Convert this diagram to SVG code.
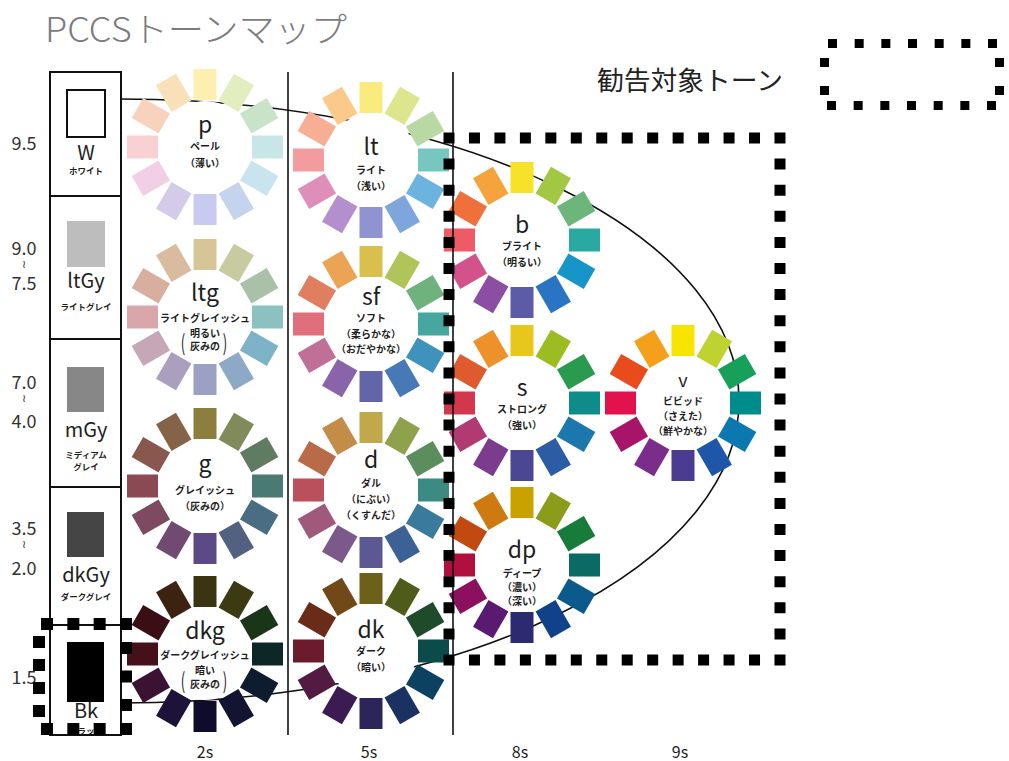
<svg xmlns="http://www.w3.org/2000/svg" width="1009" height="761" viewBox="0 0 1009 761">
<style>
  text { font-family: "Noto Sans CJK JP", "Noto Sans", sans-serif; fill: #1e1e1e; }
  .title { font-size: 34px; font-weight: 300; fill: #7c7c7c; }
  .legend { font-size: 26px; fill: #222; }
  .tone { font-size: 23px; text-anchor: middle; }
  .jp { font-size: 10px; font-weight: bold; text-anchor: middle; }
  .gy { font-size: 20px; text-anchor: middle; }
  .gyj { font-size: 8.5px; font-weight: bold; text-anchor: middle; }
  .val { font-size: 18px; text-anchor: middle; fill: #333; }
  .wave { font-family: "DejaVu Sans", sans-serif; font-size: 11px; text-anchor: middle; fill: #333; }
  .axis { font-size: 16px; text-anchor: middle; }
  .paren { font-size: 22px; text-anchor: middle; }
  .frame { stroke: #111; stroke-width: 2; fill: none; }
  .rule { stroke: #111; stroke-width: 1.6; fill: none; }
  .hub { fill: #fff; }
  .dots line { stroke: #000; fill: none; }
</style>
<defs>
  <!-- one radial colour chip of a tone wheel; rotated in 30 degree steps -->
  <rect id="petal" x="-11.5" y="-78" width="23" height="31"/>
</defs>

<rect width="1009" height="761" fill="#fff"/>

<text class="title" x="45" y="42" textLength="302" lengthAdjust="spacingAndGlyphs">PCCSトーンマップ</text>

<!-- tone boundary curve -->
<g id="connectors">
  <path class="rule" d="M121,99 A618,302 0 1 1 121,703"/>
</g>

<!-- achromatic scale -->
<g id="grays">
  <rect class="frame" x="50" y="72" width="71" height="663"/>
  <line class="frame" x1="50" y1="196" x2="121" y2="196"/>
  <line class="frame" x1="50" y1="339" x2="121" y2="339"/>
  <line class="frame" x1="50" y1="487" x2="121" y2="487"/>
  <line class="frame" x1="50" y1="625" x2="121" y2="625"/>

  <rect x="67" y="90" width="38" height="47" fill="#fff" stroke="#111" stroke-width="2"/>
  <text class="gy" x="86" y="160">W</text>
  <text class="gyj" x="86" y="174">ホワイト</text>

  <rect x="67" y="221" width="38" height="46" fill="#bdbdbd"/>
  <text class="gy" x="86" y="288">ltGy</text>
  <text class="gyj" x="86" y="310">ライトグレイ</text>

  <rect x="67" y="367" width="37" height="45" fill="#878787"/>
  <text class="gy" x="86" y="437">mGy</text>
  <text class="gyj" x="86" y="458">ミディアム</text>
  <text class="gyj" x="86" y="470">グレイ</text>

  <rect x="67" y="512" width="37" height="45" fill="#454545"/>
  <text class="gy" x="86" y="582">dkGy</text>
  <text class="gyj" x="86" y="600">ダークグレイ</text>

  <rect x="67" y="642" width="37" height="60" fill="#000"/>
  <text class="gy" x="86" y="718">Bk</text>
  <text class="gyj" x="86" y="734">ブラック</text>
</g>

<!-- lightness values -->
<g id="values">
  <text class="val" x="24" y="150">9.5</text>
  <text class="val" x="24" y="255">9.0</text>
  <text class="wave" x="24" y="268">≀</text>
  <text class="val" x="24" y="290">7.5</text>
  <text class="val" x="24" y="389">7.0</text>
  <text class="wave" x="24" y="402">≀</text>
  <text class="val" x="24" y="428">4.0</text>
  <text class="val" x="24" y="535">3.5</text>
  <text class="wave" x="24" y="548">≀</text>
  <text class="val" x="24" y="575">2.0</text>
  <text class="val" x="24" y="684">1.5</text>
</g>

<!-- 2s column -->
<g id="wheel-p" transform="translate(205,147)">
  <circle class="hub" r="46"/>
  <use href="#petal" fill="#fcefb0"/>
  <use href="#petal" transform="rotate(30)" fill="#e3eec0"/>
  <use href="#petal" transform="rotate(60)" fill="#c9e3c8"/>
  <use href="#petal" transform="rotate(90)" fill="#c8e6e6"/>
  <use href="#petal" transform="rotate(120)" fill="#c8e4ee"/>
  <use href="#petal" transform="rotate(150)" fill="#c4d4ec"/>
  <use href="#petal" transform="rotate(180)" fill="#c8caf0"/>
  <use href="#petal" transform="rotate(210)" fill="#d3cbe7"/>
  <use href="#petal" transform="rotate(240)" fill="#f2cfe4"/>
  <use href="#petal" transform="rotate(270)" fill="#f8d2d2"/>
  <use href="#petal" transform="rotate(300)" fill="#f7d3bd"/>
  <use href="#petal" transform="rotate(330)" fill="#fae0b8"/>
  <text class="tone" y="-14">p</text>
  <text class="jp" y="3">ペール</text>
  <text class="jp" y="20">（薄い）</text>
</g>

<g id="wheel-ltg" transform="translate(205,317)">
  <circle class="hub" r="46"/>
  <use href="#petal" fill="#d5c597"/>
  <use href="#petal" transform="rotate(30)" fill="#c8cb9f"/>
  <use href="#petal" transform="rotate(60)" fill="#a9c1a9"/>
  <use href="#petal" transform="rotate(90)" fill="#8cc1c2"/>
  <use href="#petal" transform="rotate(120)" fill="#7eb2c6"/>
  <use href="#petal" transform="rotate(150)" fill="#8ea9c6"/>
  <use href="#petal" transform="rotate(180)" fill="#9aa1c2"/>
  <use href="#petal" transform="rotate(210)" fill="#ab9fbe"/>
  <use href="#petal" transform="rotate(240)" fill="#c6a7b7"/>
  <use href="#petal" transform="rotate(270)" fill="#d9a7aa"/>
  <use href="#petal" transform="rotate(300)" fill="#d8af9f"/>
  <use href="#petal" transform="rotate(330)" fill="#d9bb9e"/>
  <text class="tone" y="-16">ltg</text>
  <text class="jp" y="5">ライトグレイッシュ</text>
  <text class="jp" y="20">明るい</text>
  <text class="jp" y="33">灰みの</text>
  <text class="paren" transform="translate(-22,34) scale(0.6,1)">(</text>
  <text class="paren" transform="translate(20,34) scale(0.6,1)">)</text>
</g>

<g id="wheel-g" transform="translate(205,486)">
  <circle class="hub" r="46"/>
  <use href="#petal" fill="#8c7f3e"/>
  <use href="#petal" transform="rotate(30)" fill="#818a5a"/>
  <use href="#petal" transform="rotate(60)" fill="#5f7c63"/>
  <use href="#petal" transform="rotate(90)" fill="#4a7b73"/>
  <use href="#petal" transform="rotate(120)" fill="#4b6d83"/>
  <use href="#petal" transform="rotate(150)" fill="#536181"/>
  <use href="#petal" transform="rotate(180)" fill="#5b4a85"/>
  <use href="#petal" transform="rotate(210)" fill="#714a72"/>
  <use href="#petal" transform="rotate(240)" fill="#7d4a61"/>
  <use href="#petal" transform="rotate(270)" fill="#8b4a53"/>
  <use href="#petal" transform="rotate(300)" fill="#8a574f"/>
  <use href="#petal" transform="rotate(330)" fill="#846349"/>
  <text class="tone" y="-14">g</text>
  <text class="jp" y="8">グレイッシュ</text>
  <text class="jp" y="24">（灰みの）</text>
</g>

<g id="wheel-dkg" transform="translate(205,654)">
  <circle class="hub" r="46"/>
  <use href="#petal" fill="#3a3510"/>
  <use href="#petal" transform="rotate(30)" fill="#3b3a12"/>
  <use href="#petal" transform="rotate(60)" fill="#1b3518"/>
  <use href="#petal" transform="rotate(90)" fill="#0d2626"/>
  <use href="#petal" transform="rotate(120)" fill="#0d1c2e"/>
  <use href="#petal" transform="rotate(150)" fill="#121432"/>
  <use href="#petal" transform="rotate(180)" fill="#0e0c2a"/>
  <use href="#petal" transform="rotate(210)" fill="#1d1238"/>
  <use href="#petal" transform="rotate(240)" fill="#3c1232"/>
  <use href="#petal" transform="rotate(270)" fill="#45101a"/>
  <use href="#petal" transform="rotate(300)" fill="#3a0e14"/>
  <use href="#petal" transform="rotate(330)" fill="#3c2210"/>
  <text class="tone" y="-15">dkg</text>
  <text class="jp" y="5">ダークグレイッシュ</text>
  <text class="jp" y="20">暗い</text>
  <text class="jp" y="34">灰みの</text>
  <text class="paren" transform="translate(-22,35) scale(0.6,1)">(</text>
  <text class="paren" transform="translate(20,35) scale(0.6,1)">)</text>
</g>

<!-- 5s column -->
<g id="wheel-lt" transform="translate(371,160)">
  <circle class="hub" r="46"/>
  <use href="#petal" fill="#f9eb7d"/>
  <use href="#petal" transform="rotate(30)" fill="#dde58d"/>
  <use href="#petal" transform="rotate(60)" fill="#b8d9a4"/>
  <use href="#petal" transform="rotate(90)" fill="#77c6c0"/>
  <use href="#petal" transform="rotate(120)" fill="#6db3df"/>
  <use href="#petal" transform="rotate(150)" fill="#7fa6dc"/>
  <use href="#petal" transform="rotate(180)" fill="#8f93d0"/>
  <use href="#petal" transform="rotate(210)" fill="#b48fce"/>
  <use href="#petal" transform="rotate(240)" fill="#de8fb9"/>
  <use href="#petal" transform="rotate(270)" fill="#f39c9f"/>
  <use href="#petal" transform="rotate(300)" fill="#f7ae94"/>
  <use href="#petal" transform="rotate(330)" fill="#fbca8a"/>
  <text class="tone" y="-5">lt</text>
  <text class="jp" y="14">ライト</text>
  <text class="jp" y="30">（浅い）</text>
</g>

<g id="wheel-sf" transform="translate(371,324)">
  <circle class="hub" r="46"/>
  <use href="#petal" fill="#d9c04c"/>
  <use href="#petal" transform="rotate(30)" fill="#b1c45a"/>
  <use href="#petal" transform="rotate(60)" fill="#6fb27e"/>
  <use href="#petal" transform="rotate(90)" fill="#45a79e"/>
  <use href="#petal" transform="rotate(120)" fill="#3e92bb"/>
  <use href="#petal" transform="rotate(150)" fill="#4679b5"/>
  <use href="#petal" transform="rotate(180)" fill="#6266a8"/>
  <use href="#petal" transform="rotate(210)" fill="#8a64aa"/>
  <use href="#petal" transform="rotate(240)" fill="#c06f97"/>
  <use href="#petal" transform="rotate(270)" fill="#df6f7b"/>
  <use href="#petal" transform="rotate(300)" fill="#e07e60"/>
  <use href="#petal" transform="rotate(330)" fill="#eba455"/>
  <text class="tone" y="-19">sf</text>
  <text class="jp" y="-2">ソフト</text>
  <text class="jp" y="14">（柔らかな）</text>
  <text class="jp" y="29">（おだやかな）</text>
</g>

<g id="wheel-d" transform="translate(371,490)">
  <circle class="hub" r="46"/>
  <use href="#petal" fill="#c0a94a"/>
  <use href="#petal" transform="rotate(30)" fill="#90a14b"/>
  <use href="#petal" transform="rotate(60)" fill="#5b8e5c"/>
  <use href="#petal" transform="rotate(90)" fill="#3b8b82"/>
  <use href="#petal" transform="rotate(120)" fill="#3a7a9c"/>
  <use href="#petal" transform="rotate(150)" fill="#3c6295"/>
  <use href="#petal" transform="rotate(180)" fill="#5b5893"/>
  <use href="#petal" transform="rotate(210)" fill="#7b598b"/>
  <use href="#petal" transform="rotate(240)" fill="#a0597a"/>
  <use href="#petal" transform="rotate(270)" fill="#b9505c"/>
  <use href="#petal" transform="rotate(300)" fill="#b96b49"/>
  <use href="#petal" transform="rotate(330)" fill="#c38c49"/>
  <text class="tone" y="-22">d</text>
  <text class="jp" y="-3">ダル</text>
  <text class="jp" y="13">（にぶい）</text>
  <text class="jp" y="29">（くすんだ）</text>
</g>

<g id="wheel-dk" transform="translate(371,651)">
  <circle class="hub" r="46"/>
  <use href="#petal" fill="#6b6119"/>
  <use href="#petal" transform="rotate(30)" fill="#4f5b19"/>
  <use href="#petal" transform="rotate(60)" fill="#1f4b2b"/>
  <use href="#petal" transform="rotate(90)" fill="#0b4b49"/>
  <use href="#petal" transform="rotate(120)" fill="#0d4161"/>
  <use href="#petal" transform="rotate(150)" fill="#1b3161"/>
  <use href="#petal" transform="rotate(180)" fill="#2b2559"/>
  <use href="#petal" transform="rotate(210)" fill="#3b1b51"/>
  <use href="#petal" transform="rotate(240)" fill="#531b41"/>
  <use href="#petal" transform="rotate(270)" fill="#6b1b2b"/>
  <use href="#petal" transform="rotate(300)" fill="#6b2b19"/>
  <use href="#petal" transform="rotate(330)" fill="#714919"/>
  <text class="tone" y="-13">dk</text>
  <text class="jp" y="4">ダーク</text>
  <text class="jp" y="20">（暗い）</text>
</g>

<!-- 8s column -->
<g id="wheel-b" transform="translate(522,240)">
  <circle class="hub" r="46"/>
  <use href="#petal" fill="#f8e229"/>
  <use href="#petal" transform="rotate(30)" fill="#a1c743"/>
  <use href="#petal" transform="rotate(60)" fill="#6cb67c"/>
  <use href="#petal" transform="rotate(90)" fill="#2aa9a2"/>
  <use href="#petal" transform="rotate(120)" fill="#1795c9"/>
  <use href="#petal" transform="rotate(150)" fill="#2a74c4"/>
  <use href="#petal" transform="rotate(180)" fill="#5c5ba8"/>
  <use href="#petal" transform="rotate(210)" fill="#8b4ea3"/>
  <use href="#petal" transform="rotate(240)" fill="#d4528b"/>
  <use href="#petal" transform="rotate(270)" fill="#ee5a66"/>
  <use href="#petal" transform="rotate(300)" fill="#f0703c"/>
  <use href="#petal" transform="rotate(330)" fill="#f4a33d"/>
  <text class="tone" y="-7">b</text>
  <text class="jp" y="10">ブライト</text>
  <text class="jp" y="26">（明るい）</text>
</g>

<g id="wheel-s" transform="translate(522,403)">
  <circle class="hub" r="46"/>
  <use href="#petal" fill="#e9c61a"/>
  <use href="#petal" transform="rotate(30)" fill="#9cbd21"/>
  <use href="#petal" transform="rotate(60)" fill="#2a9a4f"/>
  <use href="#petal" transform="rotate(90)" fill="#0d8c8a"/>
  <use href="#petal" transform="rotate(120)" fill="#1c77ad"/>
  <use href="#petal" transform="rotate(150)" fill="#2c5ca3"/>
  <use href="#petal" transform="rotate(180)" fill="#4b4792"/>
  <use href="#petal" transform="rotate(210)" fill="#7b3c8e"/>
  <use href="#petal" transform="rotate(240)" fill="#b13a72"/>
  <use href="#petal" transform="rotate(270)" fill="#d3374d"/>
  <use href="#petal" transform="rotate(300)" fill="#df5a2e"/>
  <use href="#petal" transform="rotate(330)" fill="#ef912a"/>
  <text class="tone" y="-7">s</text>
  <text class="jp" y="10">ストロング</text>
  <text class="jp" y="26">（強い）</text>
</g>

<g id="wheel-dp" transform="translate(522,565)">
  <circle class="hub" r="46"/>
  <use href="#petal" fill="#c9a200"/>
  <use href="#petal" transform="rotate(30)" fill="#8b9b1a"/>
  <use href="#petal" transform="rotate(60)" fill="#177b39"/>
  <use href="#petal" transform="rotate(90)" fill="#0a6b65"/>
  <use href="#petal" transform="rotate(120)" fill="#0a5b8b"/>
  <use href="#petal" transform="rotate(150)" fill="#10418b"/>
  <use href="#petal" transform="rotate(180)" fill="#2c2a70"/>
  <use href="#petal" transform="rotate(210)" fill="#5b1a71"/>
  <use href="#petal" transform="rotate(240)" fill="#8b1060"/>
  <use href="#petal" transform="rotate(270)" fill="#b1103f"/>
  <use href="#petal" transform="rotate(300)" fill="#c24a10"/>
  <use href="#petal" transform="rotate(330)" fill="#cd7b10"/>
  <text class="tone" y="-7">dp</text>
  <text class="jp" y="12">ディープ</text>
  <text class="jp" y="26">（濃い）</text>
  <text class="jp" y="40">（深い）</text>
</g>

<!-- 9s column -->
<g id="wheel-v" transform="translate(683,403)">
  <circle class="hub" r="46"/>
  <use href="#petal" fill="#f7e400"/>
  <use href="#petal" transform="rotate(30)" fill="#bfd230"/>
  <use href="#petal" transform="rotate(60)" fill="#16a05a"/>
  <use href="#petal" transform="rotate(90)" fill="#008c8b"/>
  <use href="#petal" transform="rotate(120)" fill="#0b78b0"/>
  <use href="#petal" transform="rotate(150)" fill="#1f57a8"/>
  <use href="#petal" transform="rotate(180)" fill="#4b3c91"/>
  <use href="#petal" transform="rotate(210)" fill="#7b2d8c"/>
  <use href="#petal" transform="rotate(240)" fill="#a8146a"/>
  <use href="#petal" transform="rotate(270)" fill="#e2124f"/>
  <use href="#petal" transform="rotate(300)" fill="#e94b1c"/>
  <use href="#petal" transform="rotate(330)" fill="#f5a01a"/>
  <text class="tone" y="-16" style="font-size:18px">v</text>
  <text class="jp" y="2">ビビッド</text>
  <text class="jp" y="17">（さえた）</text>
  <text class="jp" y="32">（鮮やかな）</text>
</g>

<!-- column rules -->
<g id="columns">
  <line class="rule" x1="288" y1="72" x2="288" y2="735"/>
  <line class="rule" x1="453" y1="72" x2="453" y2="735"/>
</g>

<!-- saturation labels -->
<g id="axis">
  <text class="axis" x="205" y="758">2s</text>
  <text class="axis" x="369" y="758">5s</text>
  <text class="axis" x="520" y="758">8s</text>
  <text class="axis" x="680" y="758">9s</text>
</g>

<!-- recommended-tone outlines -->
<g id="target-frame" class="dots">
  <line x1="443.5" y1="138" x2="785.5" y2="138" stroke-width="11" stroke-dasharray="11 14.46"/>
  <line x1="443.5" y1="660" x2="785.5" y2="660" stroke-width="11" stroke-dasharray="11 14.46"/>
  <line x1="449" y1="158.6" x2="449" y2="639.4" stroke-width="11" stroke-dasharray="11 15.1"/>
  <line x1="780" y1="158.6" x2="780" y2="639.4" stroke-width="11" stroke-dasharray="11 15.1"/>
</g>

<g id="bk-frame" class="dots">
  <line x1="41" y1="624" x2="132" y2="624" stroke-width="12" stroke-dasharray="12 14.33"/>
  <line x1="41" y1="729" x2="132" y2="729" stroke-width="12" stroke-dasharray="12 14.33"/>
  <line x1="39" y1="636" x2="39" y2="717" stroke-width="12" stroke-dasharray="12 11"/>
  <line x1="126" y1="642" x2="126" y2="711" stroke-width="12" stroke-dasharray="12 16.5"/>
</g>

<g id="legend">
  <text class="legend" x="597" y="90" textLength="186" lengthAdjust="spacingAndGlyphs">勧告対象トーン</text>
  <g class="dots">
    <line x1="828" y1="43.5" x2="997" y2="43.5" stroke-width="9" stroke-dasharray="9 17.67"/>
    <line x1="827" y1="105.5" x2="996" y2="105.5" stroke-width="9" stroke-dasharray="9 17.67"/>
    <line x1="824.5" y1="58" x2="824.5" y2="95" stroke-width="9" stroke-dasharray="9 19"/>
    <line x1="999.5" y1="58" x2="999.5" y2="95" stroke-width="9" stroke-dasharray="9 19"/>
  </g>
</g>
</svg>
